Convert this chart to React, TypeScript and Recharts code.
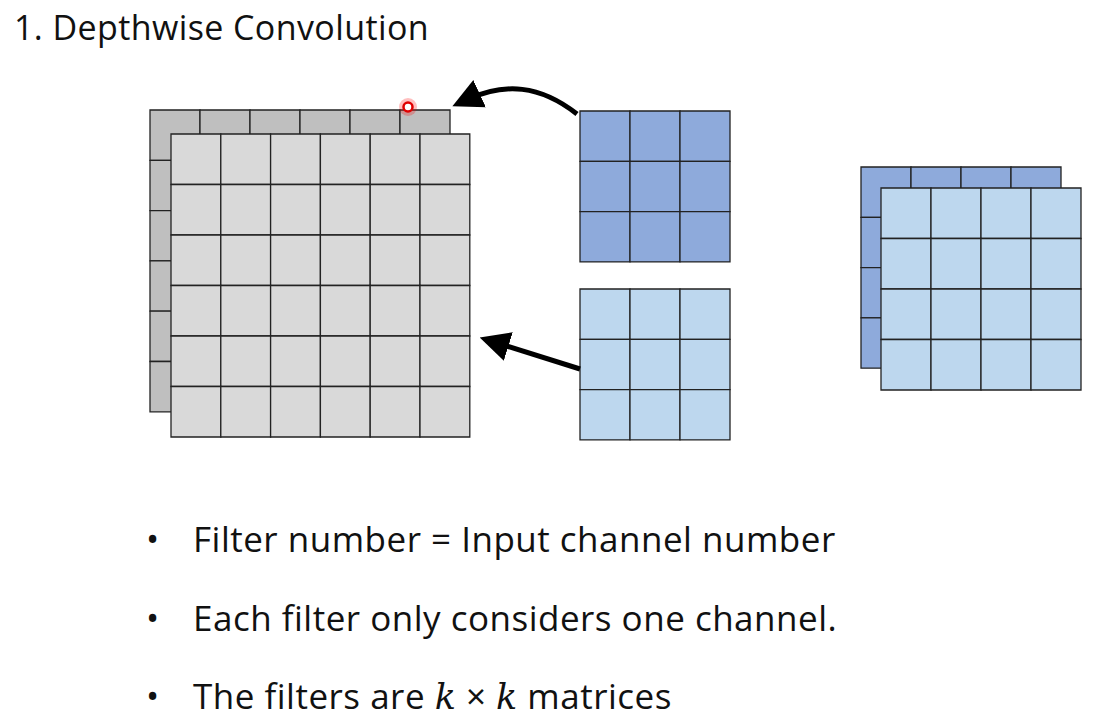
import { ComposedChart, XAxis, YAxis, ReferenceArea, ReferenceDot, Scatter } from 'recharts';

const W = 1095;
const H = 717;

// grids: left/top corner, columns, rows, cell size, fill
const grids = [
  { id: 'inBack', x: 150, y: 110, cols: 6, rows: 6, w: 50, h: 50.3, fill: '#bfbfbf' },
  { id: 'inFront', x: 171, y: 134, cols: 6, rows: 6, w: 49.8, h: 50.5, fill: '#d9d9d9' },
  { id: 'filterA', x: 580, y: 111, cols: 3, rows: 3, w: 50, h: 50.3, fill: '#8eaadb' },
  { id: 'filterB', x: 580, y: 289, cols: 3, rows: 3, w: 50, h: 50.3, fill: '#bdd7ee' },
  { id: 'outBack', x: 861, y: 167, cols: 4, rows: 4, w: 50, h: 50.3, fill: '#8eaadb' },
  { id: 'outFront', x: 881, y: 188, cols: 4, rows: 4, w: 50, h: 50.5, fill: '#bdd7ee' },
];

// invisible points that span the canvas so the scales exist
const extent = [
  { x: 0, y: 0 },
  { x: W, y: H },
];

const bullets = [
  { y: 540, text: 'Filter number = Input channel number' },
  { y: 619, text: 'Each filter only considers one channel.' },
  { y: 697, text: 'The filters are ', math: true },
];

const cells = grids.flatMap((g) => {
  const out: any[] = [];
  for (let r = 0; r < g.rows; r++)
    for (let c = 0; c < g.cols; c++)
      out.push({
        key: `${g.id}-${r}-${c}`,
        x1: g.x + c * g.w,
        x2: g.x + (c + 1) * g.w,
        y1: g.y + r * g.h,
        y2: g.y + (r + 1) * g.h,
        fill: g.fill,
      });
  return out;
});

const font = '"Open Sans", Calibri, sans-serif';

export default function App() {
  return (
    <div style={{ position: 'relative', width: W, height: H, margin: -8, background: '#fff', fontFamily: font }}>
      <ComposedChart width={W} height={H} margin={{ top: 0, right: 0, bottom: 0, left: 0 }}>
        <XAxis type="number" dataKey="x" domain={[0, W]} allowDataOverflow hide />
        <YAxis type="number" dataKey="y" domain={[0, H]} allowDataOverflow reversed hide />
        <Scatter data={extent} fill="none" isAnimationActive={false} />
        {cells.map((c) => (
          <ReferenceArea
            key={c.key}
            x1={c.x1}
            x2={c.x2}
            y1={c.y1}
            y2={c.y2}
            fill={c.fill}
            fillOpacity={1}
            stroke="#222"
            strokeWidth={1.3}
            ifOverflow="visible"
          />
        ))}
        <ReferenceDot x={408} y={107} r={9} fill="#ff0000" fillOpacity={0.25} stroke="none" ifOverflow="visible" />
        <ReferenceDot x={408} y={107} r={4.5} fill="#fff" stroke="#e00000" strokeWidth={2.5} ifOverflow="visible" />
      </ComposedChart>
      <svg width={W} height={H} style={{ position: 'absolute', left: 0, top: 0, pointerEvents: 'none' }}>
        <defs>
          <marker id="ah" markerWidth="6" markerHeight="6" refX="3" refY="3" orient="auto" markerUnits="strokeWidth">
            <path d="M0,0 L6,3 L0,6 Z" fill="#000" />
          </marker>
        </defs>
        <path d="M577,114 C540,85 505,82 466,100" stroke="#000" strokeWidth={5} fill="none" markerEnd="url(#ah)" />
        <line x1={580} y1={369} x2={494} y2={342} stroke="#000" strokeWidth={5} markerEnd="url(#ah)" />
      </svg>
      <div style={{ position: 'absolute', left: 14, top: 4, fontSize: 34, letterSpacing: 0.4, color: '#111' }}>1. Depthwise Convolution</div>
      {bullets.map((b) => (
        <div key={b.y} style={{ position: 'absolute', left: 146, top: b.y - 25, fontSize: 35, letterSpacing: 0.5, color: '#111', whiteSpace: 'nowrap' }}>
          <span style={{ display: 'inline-block', width: 47 }}>•</span>
          {b.text}
          {b.math && (
            <span>
              <i style={{ fontFamily: '"DejaVu Serif", serif' }}>k</i> × <i style={{ fontFamily: '"DejaVu Serif", serif' }}>k</i> matrices
            </span>
          )}
        </div>
      ))}
    </div>
  );
}
